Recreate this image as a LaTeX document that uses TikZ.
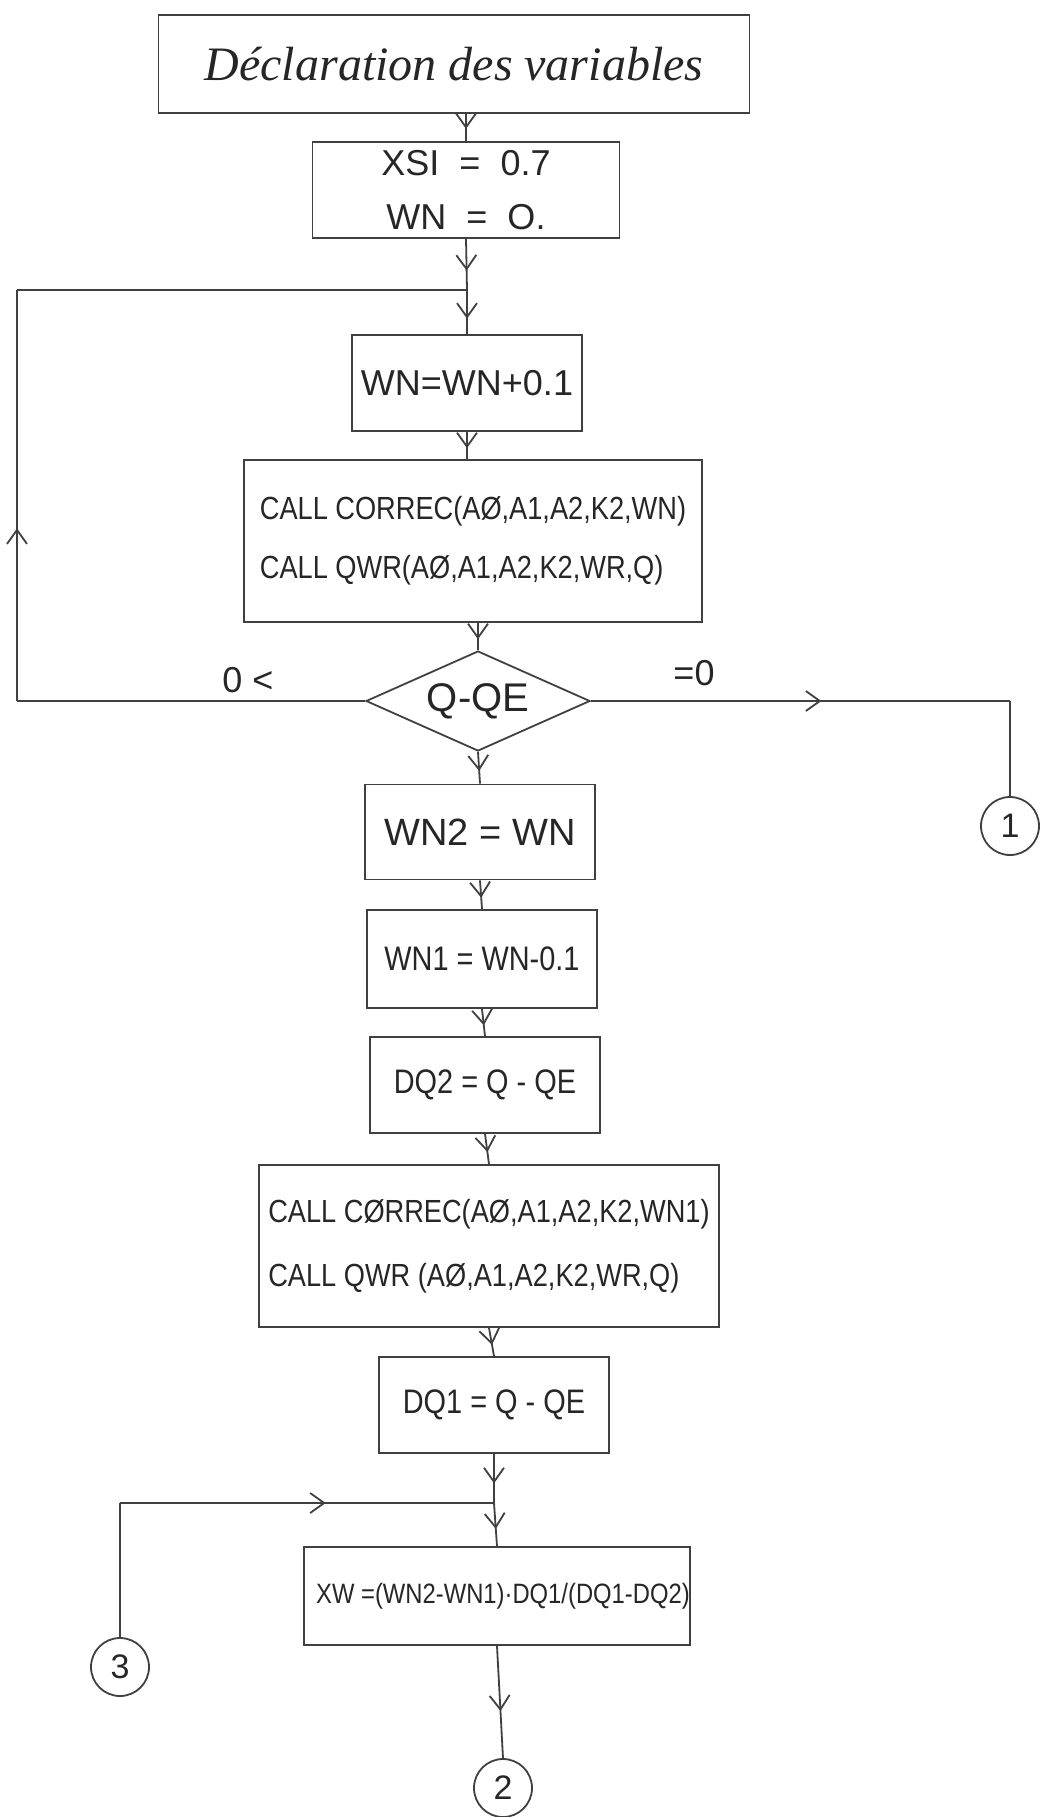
\documentclass[tikz,border=0pt]{standalone}
\usepackage{fontspec}
\setmainfont{Liberation Sans}
\newfontfamily\hw[FakeStretch=0.85]{Liberation Sans}
\newfontfamily\hwn{Liberation Sans}
\newfontfamily\hwi{Liberation Serif}
\usetikzlibrary{arrows.meta,decorations.markings,shapes.geometric,calc}
\tikzset{
  ink/.style={draw=black!75, line width=0.9pt},
  box/.style={ink, rectangle, inner sep=0pt, text=black!85},
  flow/.style={ink, postaction={decorate, decoration={markings, mark=at position #1 with {\arrow{Straight Barb[length=7pt,width=10pt]}}}}},
  conn/.style={ink, circle, inner sep=0pt, minimum size=29pt, text=black!85, font=\hwn\fontsize{17}{20}\selectfont},
  lbl/.style={text=black!85, inner sep=0pt, font=\hwn\fontsize{18}{20}\selectfont}
}
\begin{document}
\begin{tikzpicture}[x=0.5pt,y=-0.5pt]
\useasboundingbox (0,0) rectangle (1049,1817);
\fill[white] (0,0) rectangle (1049,1817);

% nodes
\node[box, minimum width=295.5pt, minimum height=49pt, font=\hwi\itshape\fontsize{24}{28}\selectfont] (decl) at (454,64) {Déclaration des variables\hspace{20pt}};
\node[box, minimum width=153.5pt, minimum height=48pt, align=center, font=\hwn\fontsize{18}{27}\selectfont] (init) at (466,190) {XSI\ \ =\ \ 0.7\\WN\ \ =\ \ O.};
\coordinate (J1) at (467,290);
\coordinate (LT) at (17,290);
\node[box, minimum width=115pt, minimum height=48pt, font=\hwn\fontsize{18}{20}\selectfont] (inc) at (467,383) {WN=WN+0.1};
\node[box, minimum width=229pt, minimum height=81pt, align=left, font=\hw\fontsize{16}{29.5}\selectfont] (call1) at (473,541) {CALL CORREC(AØ,A1,A2,K2,WN)\\CALL QWR(AØ,A1,A2,K2,WR,Q)};
\node[ink, diamond, aspect=2.24, inner sep=0pt, minimum width=112pt, minimum height=50pt, text=black!85, font=\hwn\fontsize{20}{22}\selectfont] (test) at (478,701) {Q-QE};
\node[box, minimum width=115pt, minimum height=47.5pt, font=\hwn\fontsize{19}{22}\selectfont] (wn2) at (480,832) {WN2\ =\ WN};
\node[box, minimum width=115pt, minimum height=49pt, font=\hw\fontsize{17}{20}\selectfont] (wn1) at (482,959) {WN1 = WN-0.1};
\node[box, minimum width=115pt, minimum height=48pt, font=\hw\fontsize{17}{20}\selectfont] (dq2) at (485,1085) {DQ2 = Q - QE};
\node[box, minimum width=230pt, minimum height=81pt, align=left, font=\hw\fontsize{16}{32}\selectfont] (call2) at (489,1246) {CALL CØRREC(AØ,A1,A2,K2,WN1)\\CALL QWR (AØ,A1,A2,K2,WR,Q)};
\node[box, minimum width=115pt, minimum height=48pt, font=\hw\fontsize{17}{20}\selectfont] (dq1) at (494,1405) {DQ1 = Q - QE};
\coordinate (J2) at (494,1503);
\node[box, minimum width=191pt, minimum height=49pt, font=\hw\fontsize{14}{18}\selectfont] (xw) at (497,1596) {\hspace{6pt}XW =(WN2-WN1)·DQ1/(DQ1-DQ2)};
\node[conn] (c1) at (1010,826) {1};
\node[conn] (c3) at (120,1667) {3};
\node[conn] (c2) at (503,1788) {2};
\node[lbl] (lneg) at (248,680) {0 <};
\node[lbl] (lzero) at (694,673) {=0};

% connectors
\draw[flow=0.55] (init.north |- decl.south) -- (init.north);
\draw[flow=0.62] (init.south) -- (J1);
\draw[flow=0.65] (J1) -- (inc.north);
\draw[flow=0.6] (inc.south) -- (inc.south |- call1.north);
\draw[flow=0.6] (test.north |- call1.south) -- (test.north);
\draw[flow=0.6] (test.south) -- (wn2.north);
\draw[flow=0.6] (wn2.south) -- (wn1.north);
\draw[flow=0.6] (wn1.south) -- (dq2.north);
\draw[flow=0.6] (dq2.south) -- (call2.north);
\draw[flow=0.6] (call2.south) -- (dq1.north);
\draw[flow=0.6] (dq1.south) -- (J2);
\draw[flow=0.6] (J2) -- (xw.north);
\draw[flow=0.58] (xw.south) -- (c2.north);
% loop back
\draw[ink] (test.west) -- (test.west -| LT);
\draw[flow=0.42] (test.west -| LT) -- (LT);
\draw[ink] (LT) -- (J1);
% exit =0
\draw[flow=0.55] (test.east) -- (test.east -| c1.north);
\draw[ink] (test.east -| c1.north) -- (c1.north);
% from connector 3
\draw[ink] (c3.north) -- (c3.north |- J2);
\draw[flow=0.55] (c3.north |- J2) -- (J2);
\end{tikzpicture}
\end{document}
